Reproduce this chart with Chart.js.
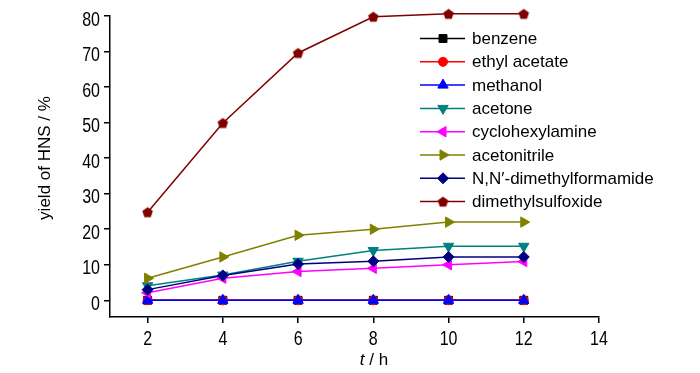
<!DOCTYPE html>
<html>
<head>
<meta charset="utf-8">
<script src="https://cdn.jsdelivr.net/npm/chart.js@4.4.1/dist/chart.umd.min.js"></script>
<style>
  body { margin: 0; background: #fff; }
  #wrap { width: 700px; height: 373px; }
</style>
</head>
<body>
<div id="wrap"><canvas id="yieldChart" width="700" height="373"></canvas></div>
<script>
// data
const hours = [2, 4, 6, 8, 10, 12];
const xTicks = [2, 4, 6, 8, 10, 12, 14];
const yTicks = [0, 10, 20, 30, 40, 50, 60, 70, 80];

const solvents = ['benzene', 'ethyl acetate', 'methanol', 'acetone', 'cyclohexylamine',
    'acetonitrile', 'N,N\u2032-dimethylformamide', 'dimethylsulfoxide'];

const benzene = [0, 0, 0, 0, 0, 0];
const ethylAcetate = [0, 0, 0, 0, 0, 0];
const methanol = [0, 0, 0, 0, 0, 0];
const acetone = [4.1, 7.1, 11, 14, 15.2, 15.2];
const cyclohexylamine = [2.1, 6.2, 8.1, 9, 10, 10.9];
const acetonitrile = [6.2, 12.2, 18.3, 20, 22, 22];
const dmf = [3, 7, 10.2, 11, 12.2, 12.2];
const dmso = [24.8, 49.9, 69.6, 79.8, 80.6, 80.6];

const seriesValues = [benzene, ethylAcetate, methanol, acetone, cyclohexylamine, acetonitrile, dmf, dmso];

// pentagon marker (chart.js has none)
function makePentagon(color, r) {
    const c = document.createElement('canvas');
    const s = Math.ceil(r * 2 + 2);
    c.width = s; c.height = s;
    const g = c.getContext('2d');
    g.beginPath();
    for (let i = 0; i < 5; i++) {
        const a = -Math.PI / 2 + i * 2 * Math.PI / 5;
        const px = s / 2 + r * Math.cos(a);
        const py = s / 2 + r * Math.sin(a) + 0.5;
        if (i === 0) g.moveTo(px, py); else g.lineTo(px, py);
    }
    g.closePath();
    g.fillStyle = color;
    g.fill();
    return c;
}

const styles = [
    { color: '#000000', point: 'rect', rot: 0, r: 5.6 },
    { color: '#ff0000', point: 'circle', rot: 0, r: 4.5 },
    { color: '#0000ff', point: 'triangle', rot: 0, r: 6 },
    { color: '#008080', point: 'triangle', rot: 180, r: 6 },
    { color: '#ff00ff', point: 'triangle', rot: -90, r: 6 },
    { color: '#808000', point: 'triangle', rot: 90, r: 6 },
    { color: '#000080', point: 'rectRot', rot: 0, r: 5.5 },
    { color: '#800000', point: makePentagon('#800000', 5.5), rot: 0, r: 5.5 }
];

const FONT = 'Liberation Sans';

const datasets = seriesValues.map((vals, i) => ({
    label: solvents[i],
    data: vals.map((v, k) => ({ x: hours[k], y: v })),
    borderColor: styles[i].color,
    backgroundColor: styles[i].color,
    borderWidth: 1.5,
    pointStyle: styles[i].point,
    pointRotation: styles[i].rot,
    pointRadius: styles[i].r,
    pointBorderWidth: 1,
    pointHoverRadius: styles[i].r,
    order: seriesValues.length - i,
    clip: false
}));

// tick labels: the original font is tall and narrow, so stretch it a bit
function stretchedText(ctx, text, cx, cy, align) {
    const size = 16, stretch = 1.32;
    ctx.save();
    ctx.translate(cx, cy);
    ctx.scale(1, stretch);
    ctx.font = size + 'px "' + FONT + '"';
    ctx.textAlign = align;
    ctx.textBaseline = 'alphabetic';
    ctx.fillStyle = '#000';
    ctx.fillText(text, 0, 0.716 * size / 2);
    ctx.restore();
}

const tickLabelPlugin = {
    id: 'tickLabels',
    afterDraw(chart) {
        const ctx = chart.ctx;
        const xs = chart.scales.x, ys = chart.scales.y;
        xTicks.forEach(v => {
            stretchedText(ctx, String(v), xs.getPixelForValue(v), 337.5, 'center');
        });
        yTicks.forEach(v => {
            stretchedText(ctx, String(v), 100, ys.getPixelForValue(v) + 2, 'right');
        });
    }
};

// legend inside the plot, drawn by hand
const legendPlugin = {
    id: 'insideLegend',
    afterDraw(chart) {
        const ctx = chart.ctx;
        const x0 = 420, x1 = 465, mx = 443, tx = 472;
        ctx.save();
        solvents.forEach((name, i) => {
            const y = 38.5 + i * 23.3;
            const st = styles[i];
            ctx.strokeStyle = st.color;
            ctx.fillStyle = st.color;
            ctx.lineWidth = 1.5;
            ctx.beginPath();
            ctx.moveTo(x0, y);
            ctx.lineTo(x1, y);
            ctx.stroke();
            ctx.lineWidth = 1;
            Chart.helpers.drawPoint(ctx, { pointStyle: st.point, rotation: st.rot, radius: st.r, borderWidth: 1 }, mx, y);
            ctx.fillStyle = '#000';
            ctx.font = '17px "' + FONT + '"';
            ctx.textBaseline = 'middle';
            ctx.textAlign = 'left';
            ctx.fillText(name, tx, y + 1);
        });
        ctx.restore();
    }
};

// axis titles (italic t)
const titlePlugin = {
    id: 'axisTitles',
    afterDraw(chart) {
        const ctx = chart.ctx;
        ctx.save();
        ctx.fillStyle = '#000';
        ctx.textBaseline = 'middle';
        ctx.font = '17px "' + FONT + '"';
        ctx.translate(45, 158);
        ctx.rotate(-Math.PI / 2);
        ctx.textAlign = 'center';
        ctx.fillText('yield of HNS / %', 0, 0);
        ctx.restore();

        ctx.save();
        ctx.fillStyle = '#000';
        ctx.textBaseline = 'middle';
        ctx.textAlign = 'left';
        ctx.font = 'italic 17px "' + FONT + '"';
        const tW = ctx.measureText('t').width;
        ctx.font = '17px "' + FONT + '"';
        const rest = ' / h';
        const rW = ctx.measureText(rest).width;
        const start = 374 - (tW + rW) / 2;
        ctx.font = 'italic 17px "' + FONT + '"';
        ctx.fillText('t', start, 360);
        ctx.font = '17px "' + FONT + '"';
        ctx.fillText(rest, start + tW, 360);
        ctx.restore();
    }
};

new Chart(document.getElementById('yieldChart'), {
    type: 'line',
    data: { datasets: datasets },
    options: {
        responsive: false,
        animation: false,
        layout: { padding: { left: 0, right: 101, top: 16, bottom: 0 } },
        plugins: {
            legend: { display: false },
            tooltip: { enabled: false }
        },
        scales: {
            x: {
                type: 'linear',
                min: 1,
                max: 14,
                afterBuildTicks: scale => { scale.ticks = xTicks.map(v => ({ value: v })); },
                afterFit: scale => { scale.height = 56; },
                grid: { display: true, drawOnChartArea: false, drawTicks: true, tickLength: 6, color: '#000', lineWidth: 1.5 },
                border: { display: true, color: '#000', width: 1.5 },
                ticks: { display: false }
            },
            y: {
                type: 'linear',
                min: -4.7,
                max: 80,
                afterBuildTicks: scale => { scale.ticks = yTicks.map(v => ({ value: v })); },
                afterFit: scale => { scale.width = 110; },
                grid: { display: true, drawOnChartArea: false, drawTicks: true, tickLength: 6, color: '#000', lineWidth: 1.5 },
                border: { display: true, color: '#000', width: 1.5 },
                ticks: { display: false }
            }
        }
    },
    plugins: [tickLabelPlugin, legendPlugin, titlePlugin]
});
</script>
</body>
</html>
